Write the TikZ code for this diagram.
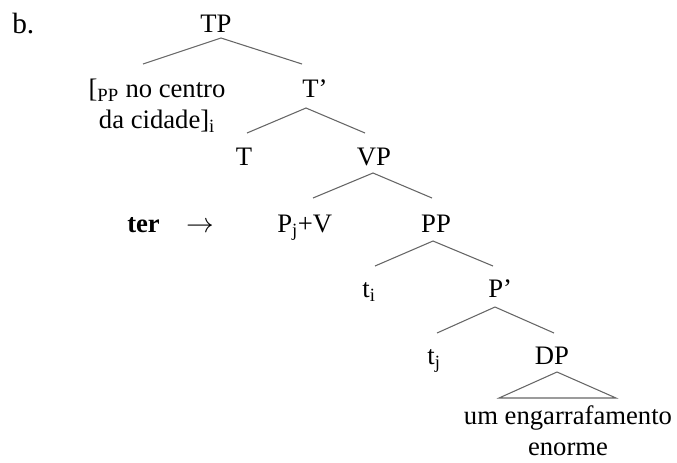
\documentclass[tikz,border=0pt]{standalone}
\usepackage{fontspec}
\setmainfont{Liberation Serif}
\newfontfamily\treefont{Liberation Serif}
\begin{document}
\begin{tikzpicture}[
  x=0.75pt, y=-0.75pt,
  lbl/.style={inner sep=0pt, anchor=base, font=\treefont\fontsize{20}{23.25}\selectfont},
  lbll/.style={lbl, anchor=base west},
  branch/.style={draw=black!60, line width=0.8pt}
]
\useasboundingbox (0,0) rectangle (677,462);

% example label
\node[inner sep=0pt, anchor=base west, font=\treefont\fontsize{22}{26}\selectfont] (ex) at (12,33) {b.};

% labels of the tree (two-line labels are placed by their last line)
\node[lbl]  (tp)   at (216,32)  {TP};
\node[lbl, align=center] (spec) at (157,128) {[\textsubscript{PP} no centro\\da cidade]\textsubscript{i}};
\node[lbll] (tbar) at (302,97)  {T’};
\node[lbl]  (t)    at (244,165) {T};
\node[lbl]  (vp)   at (374,165) {VP};
\node[lbll, font=\treefont\fontsize{20}{23.25}\selectfont\bfseries] (ter) at (127,232) {ter};
\node[lbl]  (arr)  at (200,232) {$\rightarrow$};
\node[lbll] (pv)   at (277,232) {P\textsubscript{j}+V};
\node[lbl]  (pp)   at (436,232) {PP};
\node[lbl]  (ti)   at (369,297) {t\textsubscript{i}};
\node[lbll] (pbar) at (488,297) {P’};
\node[lbl]  (tj)   at (434,364) {t\textsubscript{j}};
\node[lbl]  (dp)   at (552,364) {DP};
\node[lbl, align=center] (obj) at (568,455) {um engarrafamento\\enorme};

% branch points
\coordinate (tp-a)  at (221,38);  \coordinate (tp-l)  at (143,64);  \coordinate (tp-r)  at (302,64);
\coordinate (tb-a)  at (306,108); \coordinate (tb-l)  at (247,133); \coordinate (tb-r)  at (365,133);
\coordinate (vp-a)  at (373,173); \coordinate (vp-l)  at (313,198); \coordinate (vp-r)  at (432,198);
\coordinate (pp-a)  at (433,241); \coordinate (pp-l)  at (375,266); \coordinate (pp-r)  at (493,266);
\coordinate (pb-a)  at (495,307); \coordinate (pb-l)  at (437,333); \coordinate (pb-r)  at (554,333);
\coordinate (dp-a)  at (557,372); \coordinate (dp-l)  at (499,398); \coordinate (dp-r)  at (616,398);

% branches
\draw[branch] (tp-l) -- (tp-a) -- (tp-r);
\draw[branch] (tb-l) -- (tb-a) -- (tb-r);
\draw[branch] (vp-l) -- (vp-a) -- (vp-r);
\draw[branch] (pp-l) -- (pp-a) -- (pp-r);
\draw[branch] (pb-l) -- (pb-a) -- (pb-r);
\draw[branch] (dp-l) -- (dp-a) -- (dp-r) -- cycle;
\end{tikzpicture}
\end{document}
